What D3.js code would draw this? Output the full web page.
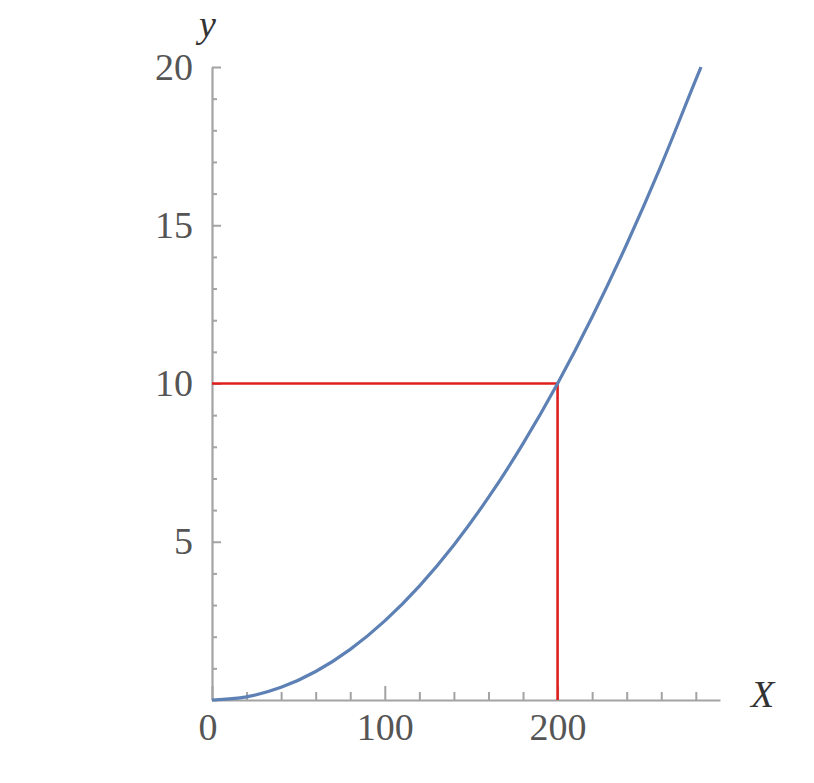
<!DOCTYPE html>
<html>
<head>
<meta charset="utf-8">
<script src="https://cdn.jsdelivr.net/npm/d3@7"></script>
<style>
  body { margin: 0; background: #fff; }
  .tick text { font-family: "Liberation Serif", "DejaVu Serif", serif; font-size: 38px; fill: #555; }
  .axis-label { font-family: "Liberation Serif", "DejaVu Serif", serif; font-style: italic; font-size: 38px; fill: #333; }
</style>
</head>
<body>
<script>
// curve
var curveX = [0, 20, 40, 60, 80, 100, 120, 140, 160, 180, 200, 220, 240, 260, 280, 283];
var curveY = [0, 0.1, 0.4, 0.9, 1.6, 2.5, 3.6, 4.9, 6.4, 8.1, 10, 12.1, 14.4, 16.9, 19.6, 20];

// the marked point (red guide lines)
var markX = 200,
    markY = 10;

var xMajor = [0, 100, 200],
    xMinor = [20, 40, 60, 80, 120, 140, 160, 180, 220, 240, 260, 280];
var yMajor = [5, 10, 15, 20],
    yMinor = [0, 1, 2, 3, 4, 6, 7, 8, 9, 11, 12, 13, 14, 16, 17, 18, 19];

var width = 814,
    height = 783;

var svg = d3.select("body")
  .append("svg")
    .attr("width", width)
    .attr("height", height);

var x = d3.scaleLinear().domain([0, 294]).range([212, 720]);
var y = d3.scaleLinear().domain([0, 20]).range([700, 67]);

var axisColor = "#a3a3a3";

// minor ticks first so the major ones sit on top
var xMinorG = svg.append("g")
    .attr("transform", "translate(0," + y(0) + ")")
    .call(d3.axisBottom(x).tickValues(xMinor).tickFormat("").tickSizeInner(-8).tickSizeOuter(0));
var yMinorG = svg.append("g")
    .attr("transform", "translate(" + x(0) + ",0)")
    .call(d3.axisLeft(y).tickValues(yMinor).tickFormat("").tickSizeInner(-5).tickSizeOuter(0));

var xAxisG = svg.append("g")
    .attr("transform", "translate(0," + y(0) + ")")
    .call(d3.axisBottom(x).tickValues(xMajor).tickSizeInner(-14).tickSizeOuter(0).tickPadding(13));
var yAxisG = svg.append("g")
    .attr("transform", "translate(" + x(0) + ",0)")
    .call(d3.axisLeft(y).tickValues(yMajor).tickSizeInner(-9).tickSizeOuter(0).tickPadding(19));

[xMinorG, yMinorG].forEach(function(g) { g.select(".domain").remove(); });
[xMinorG, yMinorG, xAxisG, yAxisG].forEach(function(g) {
  g.attr("font-family", null).attr("font-size", null);
  g.selectAll("line").attr("stroke", axisColor).attr("stroke-width", 2);
  g.selectAll(".domain").attr("stroke", axisColor).attr("stroke-width", 2.2);
});
xAxisG.selectAll(".tick text").attr("dx", function(d) { return d === 0 ? "-0.12em" : 0; });

// red guide lines
svg.append("path")
    .attr("d", "M" + x(0) + "," + y(markY) + "H" + x(markX) + "V" + y(0))
    .attr("fill", "none")
    .attr("stroke", "#e0201f")
    .attr("stroke-width", 2.6);

// curve
var pts = curveX.map(function(v, i) { return [v, curveY[i]]; });
svg.append("path")
    .datum(pts)
    .attr("d", d3.line()
      .x(function(d) { return x(d[0]); })
      .y(function(d) { return y(d[1]); })
      .curve(d3.curveMonotoneX))
    .attr("fill", "none")
    .attr("stroke", "#5e81b5")
    .attr("stroke-width", 3.2);

// axis labels
svg.append("text")
    .attr("class", "axis-label")
    .attr("x", 199)
    .attr("y", 37)
    .text("y");
svg.append("text")
    .attr("class", "axis-label")
    .attr("x", 751)
    .attr("y", 707)
    .text("X");
</script>
</body>
</html>
